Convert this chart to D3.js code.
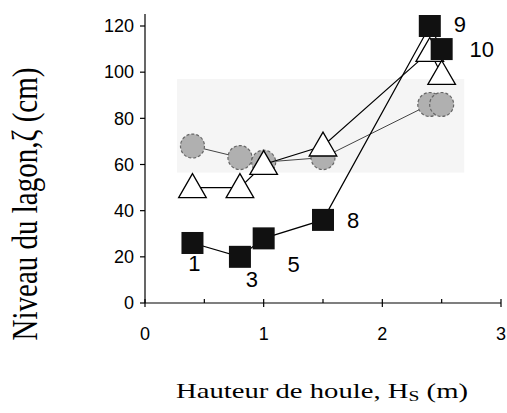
<!DOCTYPE html>
<html><head><meta charset="utf-8">
<script src="https://cdn.jsdelivr.net/npm/d3@7"></script>
<style>body{margin:0;background:#fff}</style>
</head><body>
<svg id="c" width="507" height="413"></svg>
<script>
const xTicks = [0, 1, 2, 3];
const xMinorTicks = [0.5, 1.5, 2.5];
const yTicks = [0, 20, 40, 60, 80, 100, 120];
const circleX = [0.4, 0.8, 1.0, 1.5, 2.4, 2.5];
const circleY = [68, 63, 61, 63, 86, 86];
const triX = [0.4, 0.8, 1.0, 1.5, 2.4, 2.5];
const triY = [50, 50, 60, 68, 109, 99];
const sqX = [0.4, 0.8, 1.0, 1.5, 2.4, 2.5];
const sqY = [26, 20, 28, 36, 120, 110];
const sqLabels = ["1", "3", "5", "8", "9", "10"];

const svg = d3.select("#c");
const x = d3.scaleLinear().domain([0, 3]).range([145, 501]);
const y = d3.scaleLinear().domain([0, 120]).range([303, 26]);

// light gray shaded band
svg.append("rect").attr("x", x(0.27)).attr("y", y(97))
  .attr("width", x(2.69) - x(0.27)).attr("height", y(56.5) - y(97))
  .attr("fill", "#f5f5f5");

// axes
const ax = svg.append("g").attr("stroke", "#000").attr("stroke-width", 1.2);
ax.append("line").attr("x1", x(0)).attr("x2", x(3)).attr("y1", y(0)).attr("y2", y(0));
ax.append("line").attr("x1", x(0)).attr("x2", x(0)).attr("y1", y(0)).attr("y2", y(120) - 12);
xTicks.forEach(t => ax.append("line").attr("x1", x(t)).attr("x2", x(t)).attr("y1", y(0) - 4).attr("y2", y(0) + 4));
xMinorTicks.forEach(t => ax.append("line").attr("x1", x(t)).attr("x2", x(t)).attr("y1", y(0) - 4).attr("y2", y(0)));
yTicks.forEach(t => ax.append("line").attr("x1", x(0) - 5).attr("x2", x(0)).attr("y1", y(t)).attr("y2", y(t)));

svg.selectAll(".yl").data(yTicks).enter().append("text")
  .attr("x", x(0) - 11).attr("y", d => y(d)).attr("dy", "0.35em")
  .attr("text-anchor", "end").attr("font-family", "Liberation Sans, Arial, sans-serif")
  .attr("font-size", 18).text(d => d);
svg.selectAll(".xl").data(xTicks).enter().append("text")
  .attr("x", d => x(d)).attr("y", 340)
  .attr("text-anchor", "middle").attr("font-family", "Liberation Sans, Arial, sans-serif")
  .attr("font-size", 18).text(d => d);

// axis titles
const xt = svg.append("text").attr("transform", "translate(322,398) scale(1.4,1)").attr("text-anchor", "middle")
  .attr("font-family", "Liberation Serif, Times New Roman, serif").attr("font-size", 20.5);
xt.append("tspan").text("Hauteur de houle, H");
xt.append("tspan").attr("font-size", 14).attr("dy", 3).text("S");
xt.append("tspan").attr("dy", -3).text(" (m)");

svg.append("text").attr("transform", "translate(37,204) rotate(-90) scale(1,1.2)")
  .attr("text-anchor", "middle").attr("font-family", "Liberation Serif, Times New Roman, serif")
  .attr("font-size", 29).text("Niveau du lagon,ζ (cm)");

const line = d3.line().x(d => x(d[0])).y(d => y(d[1]));
const circ = circleX.map((v, i) => [v, circleY[i]]);
const tri = triX.map((v, i) => [v, triY[i]]);
const sq = sqX.map((v, i) => [v, sqY[i]]);

// circles series
svg.append("path").attr("d", line(circ)).attr("fill", "none").attr("stroke", "#444").attr("stroke-width", 1);
svg.selectAll(".ci").data(circ).enter().append("circle")
  .attr("cx", d => x(d[0])).attr("cy", d => y(d[1])).attr("r", 12)
  .attr("fill", "#b0b0b0").attr("stroke", "#666").attr("stroke-width", 1.2).attr("stroke-dasharray", "3,2");

// triangle series
svg.append("path").attr("d", line(tri)).attr("fill", "none").attr("stroke", "#000").attr("stroke-width", 1.2);
const triSym = d3.symbol().type(d3.symbolTriangle).size(330);
svg.selectAll(".tr").data(tri).enter().append("path")
  .attr("d", triSym).attr("transform", d => `translate(${x(d[0])},${y(d[1]) + 2})`)
  .attr("fill", "#fff").attr("stroke", "#000").attr("stroke-width", 1.3);

// square series
svg.append("path").attr("d", line(sq)).attr("fill", "none").attr("stroke", "#000").attr("stroke-width", 1.2);
svg.selectAll(".sq").data(sq).enter().append("rect")
  .attr("x", d => x(d[0]) - 11).attr("y", d => y(d[1]) - 11)
  .attr("width", 22).attr("height", 22).attr("fill", "#111");

const labOff = [[2, 20], [12, 22], [30, 26], [30, 0], [30, -2], [40, 0]];
svg.selectAll(".sl").data(sq).enter().append("text")
  .attr("x", (d, i) => x(d[0]) + labOff[i][0]).attr("y", (d, i) => y(d[1]) + labOff[i][1])
  .attr("dy", "0.35em").attr("text-anchor", "middle")
  .attr("font-family", "Liberation Sans, Arial, sans-serif").attr("font-size", 22)
  .text((d, i) => sqLabels[i]);
</script>
</body></html>
